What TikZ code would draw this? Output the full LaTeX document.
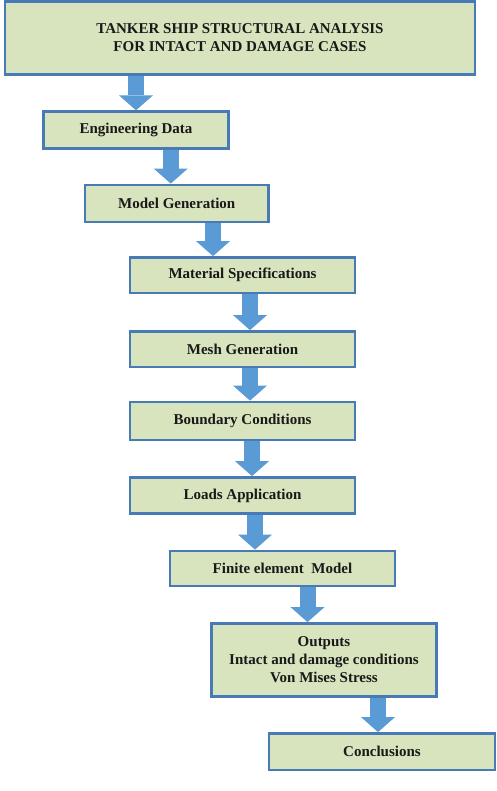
\documentclass[tikz,border=0pt]{standalone}
\usepackage{fontspec}
\setmainfont{Liberation Serif}
\usepackage{tikz}
\usetikzlibrary{arrows.meta,positioning,calc}
\definecolor{boxgreen}{RGB}{215,228,189}
\definecolor{boxblue}{RGB}{72,122,182}
\definecolor{arrowblue}{RGB}{91,155,213}
\definecolor{textdark}{RGB}{25,25,25}

\begin{document}
\begin{tikzpicture}[
  x=1pt, y=-1pt,
  stepbox/.style={rectangle, draw=boxblue, fill=boxgreen, line width=2.8pt, inner sep=0pt, align=center, text=textdark, font=\fontsize{15}{18}\selectfont\bfseries, minimum width=225pt, minimum height=36pt},
  flow/.style={-{Triangle[width=34pt,length=15pt,line width=0pt]}, line width=16pt, draw=arrowblue}
]
\useasboundingbox (0,0) rectangle (497,791);

\node[stepbox, minimum width=470pt, minimum height=72.5pt] (title) at (240,38) {TANKER SHIP STRUCTURAL ANALYSIS\\FOR INTACT AND DAMAGE CASES};
\node[stepbox, minimum width=185pt, minimum height=36.5pt] (engdata) at (136,130) {Engineering Data};
\node[stepbox, minimum width=183.5pt, minimum height=37pt] (model) at (176.75,203.5) {Model Generation};
\node[stepbox, minimum height=35.5pt] (material) at (242.5,275.25) {Material Specifications};
\node[stepbox, minimum height=35.5pt] (mesh) at (242.5,349.25) {Mesh Generation};
\node[stepbox, minimum height=38pt] (boundary) at (242.5,421) {Boundary Conditions};
\node[stepbox] (loads) at (242.5,495.5) {Loads Application};
\node[stepbox, minimum height=35pt] (fem) at (282.5,568.5) {Finite element\ \ Model};
\node[stepbox, minimum height=73pt] (outputs) at (324,660) {Outputs\\Intact and damage conditions\\Von Mises Stress};
\node[stepbox, minimum width=226pt, minimum height=36.5pt] (concl) at (382,751.75) {Conclusions};

\draw[flow] (engdata.north |- title.south) -- (engdata.north);
\draw[flow] ([xshift=-6pt]model.north |- engdata.south) -- ([xshift=-6pt]model.north);
\draw[flow] ([xshift=-29.5pt]material.north |- model.south) -- ([xshift=-29.5pt]material.north);
\draw[flow] ([xshift=7.5pt]mesh.north |- material.south) -- ([xshift=7.5pt]mesh.north);
\draw[flow] ([xshift=7.5pt]boundary.north |- mesh.south) -- ([xshift=7.5pt]boundary.north);
\draw[flow] ([xshift=9.5pt]loads.north |- boundary.south) -- ([xshift=9.5pt]loads.north);
\draw[flow] ([xshift=-27.5pt]fem.north |- loads.south) -- ([xshift=-27.5pt]fem.north);
\draw[flow] ([xshift=-16.5pt]outputs.north |- fem.south) -- ([xshift=-16.5pt]outputs.north);
\draw[flow] ([xshift=-4pt]concl.north |- outputs.south) -- ([xshift=-4pt]concl.north);
\end{tikzpicture}
\end{document}
